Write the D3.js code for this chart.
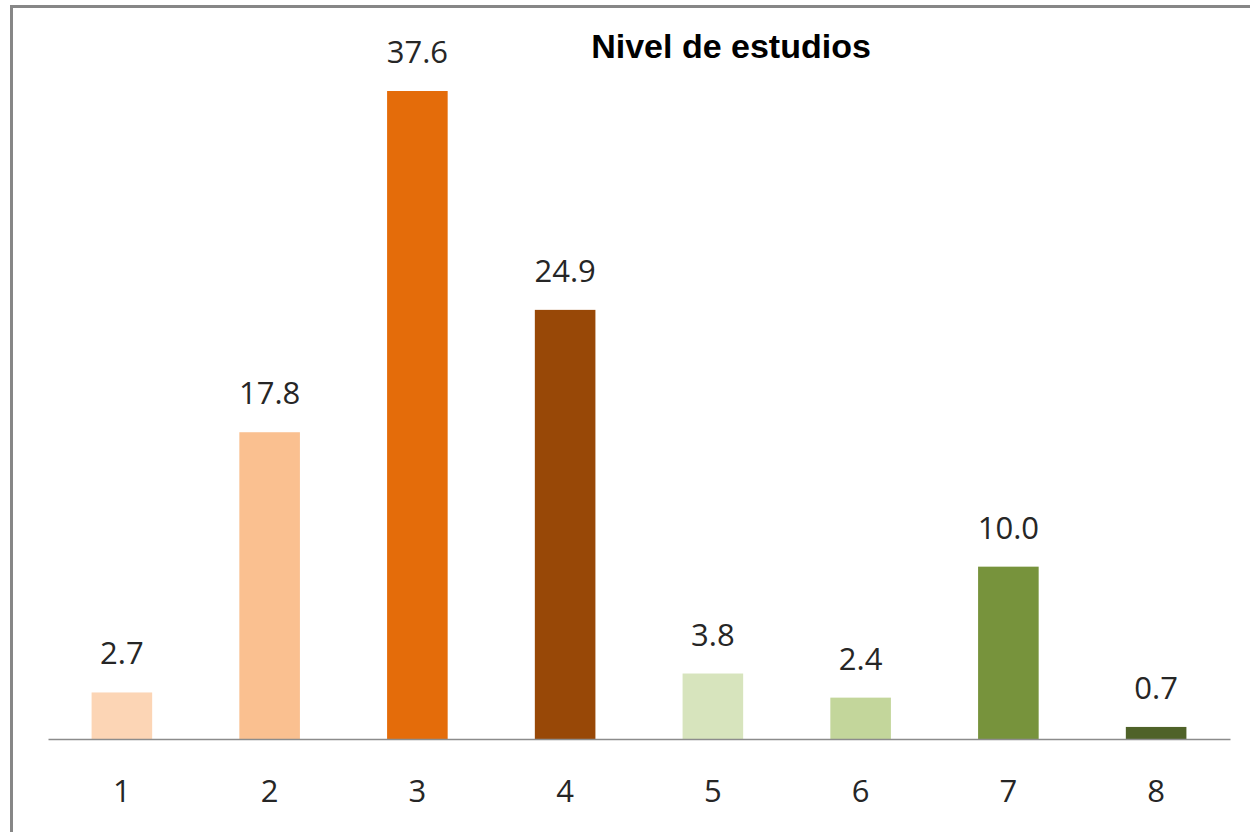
<!DOCTYPE html>
<html>
<head>
<meta charset="utf-8">
<script src="https://cdn.jsdelivr.net/npm/d3@7"></script>
<style>
  html, body { margin: 0; padding: 0; background: #fff; }
</style>
</head>
<body>
<div id="chart"></div>
<script>
// chart data
const categories = ["1", "2", "3", "4", "5", "6", "7", "8"];
const values = [2.7, 17.8, 37.6, 24.9, 3.8, 2.4, 10.0, 0.7];
const barColors = ["#FCD5B5", "#FAC090", "#E46C0A", "#984807", "#D7E4BD", "#C3D69B", "#77933C", "#4F6228"];
const title = "Nivel de estudios";

const width = 1250, height = 832;
const svg = d3.select("#chart").append("svg")
  .attr("width", width)
  .attr("height", height);

// outer frame (top + left edges visible)
svg.append("path")
  .attr("d", `M11.5,${height} L11.5,6.5 L${width},6.5`)
  .attr("fill", "none")
  .attr("stroke", "#878787")
  .attr("stroke-width", 3);

// scales
const x = d3.scaleBand()
  .domain(categories)
  .range([48, 1230])
  .paddingInner(0.59)
  .paddingOuter(0.295);

const y = d3.scaleLinear()
  .domain([0, 37.6])
  .range([739, 91]);

// bars
svg.append("g")
  .selectAll("rect")
  .data(values)
  .join("rect")
  .attr("x", (d, i) => x(categories[i]))
  .attr("y", d => y(d))
  .attr("width", x.bandwidth())
  .attr("height", d => y(0) - y(d))
  .attr("fill", (d, i) => barColors[i]);

// baseline axis
const axis = svg.append("g")
  .attr("transform", `translate(0,${y(0)})`)
  .call(d3.axisBottom(x).tickSize(0).tickPadding(0));
axis.select(".domain")
  .attr("stroke", "#8c8c8c")
  .attr("stroke-width", 1.5);
axis.selectAll("text")
  .attr("dy", 0)
  .attr("y", 63)
  .style("font-family", "'Open Sans', sans-serif")
  .style("font-size", "31px")
  .attr("fill", "#262626");

// value labels
svg.append("g")
  .selectAll("text")
  .data(values)
  .join("text")
  .attr("x", (d, i) => x(categories[i]) + x.bandwidth() / 2)
  .attr("y", d => y(d) - 28)
  .attr("text-anchor", "middle")
  .style("font-family", "'Open Sans', sans-serif")
  .style("font-size", "31px")
  .attr("fill", "#262626")
  .text(d => d.toFixed(1));

// title
svg.append("text")
  .attr("x", 731)
  .attr("y", 58)
  .attr("text-anchor", "middle")
  .style("font-family", "'Liberation Sans', Arial, sans-serif")
  .style("font-weight", "bold")
  .style("font-size", "34px")
  .attr("fill", "#000")
  .text(title);
</script>
</body>
</html>
